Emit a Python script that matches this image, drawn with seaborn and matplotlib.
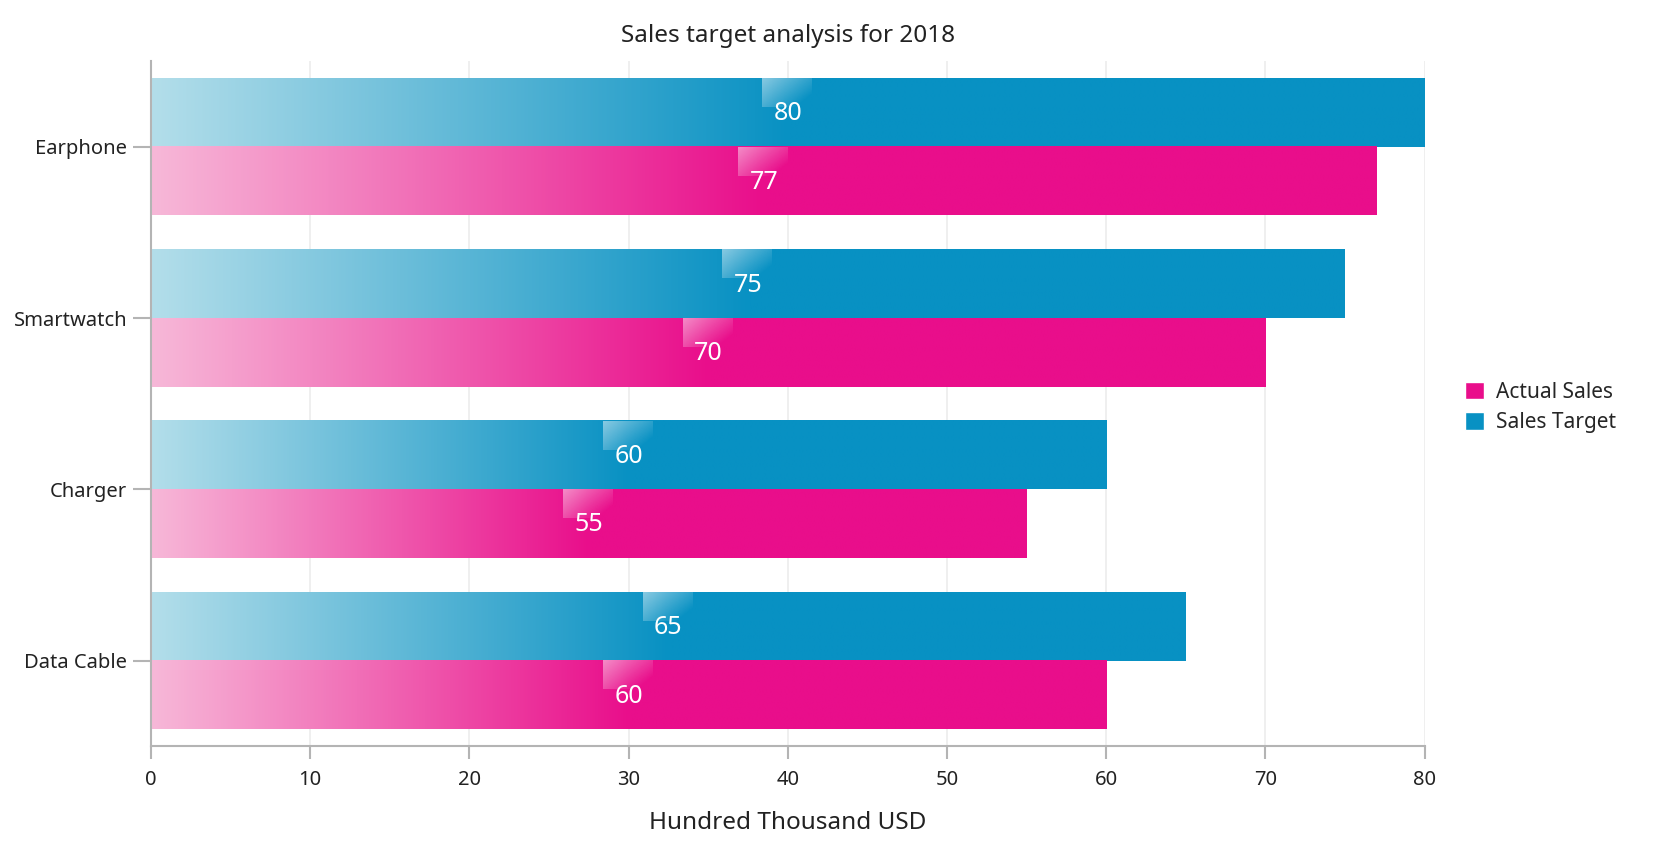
import numpy as np
import pandas as pd
import seaborn as sns
import matplotlib.pyplot as plt
from matplotlib.patches import Patch
from matplotlib.colors import to_rgb

products = ["Earphone", "Smartwatch", "Charger", "Data Cable"]
sales_target = [80, 75, 60, 65]
actual_sales = [77, 70, 55, 60]

colors = {"Sales Target": "#0891C3", "Actual Sales": "#E90E8B"}
light = {"Sales Target": "#B3DEEA", "Actual Sales": "#F7B8D8"}

df = pd.DataFrame({
    "product": products * 2,
    "value": sales_target + actual_sales,
    "series": ["Sales Target"] * 4 + ["Actual Sales"] * 4,
})

sns.set_style("white")
plt.rcParams["font.family"] = ["Noto Sans", "DejaVu Sans"]

fig = plt.figure(figsize=(16.7, 8.49), dpi=100)
ax = fig.add_axes([0.0904, 0.121, 0.7626, 0.807])

sns.barplot(df, y="product", x="value", hue="series", orient="h",
            hue_order=["Sales Target", "Actual Sales"], palette=colors,
            width=0.8, dodge=True, legend=False, ax=ax, zorder=2)

# gradient fill: light at 0, full colour from half the bar on
order = ["Sales Target", "Actual Sales"]
for i, bar in enumerate(ax.patches):
    name = order[i // len(products)]
    x0, y0 = bar.get_x(), bar.get_y()
    w, h = bar.get_width(), bar.get_height()
    c0 = np.array(to_rgb(light[name]))
    c1 = np.array(to_rgb(colors[name]))
    t = np.clip(np.linspace(0, 1, 256) / 0.5, 0, 1)[:, None]
    grad = (c0 * (1 - t) + c1 * t)[None, :, :]
    bar.set_facecolor("none")
    bar.set_edgecolor("none")
    ax.imshow(grad, extent=[x0, x0 + w, y0 + h, y0], aspect="auto",
              interpolation="bilinear", zorder=2)

    # value label with small glossy box
    cx = w / 2
    bw, bh = 3.1, h * 0.42
    gx, gy = np.meshgrid(np.linspace(0, 1, 40), np.linspace(0, 1, 20))
    alpha = np.clip(0.5 * (1 - 0.7 * gx - 0.5 * gy), 0, 1)
    box = np.ones((20, 40, 4))
    box[..., 3] = alpha
    ax.imshow(box, extent=[cx - 1.6, cx - 1.6 + bw, y0 + bh, y0],
              aspect="auto", interpolation="bilinear", zorder=3)
    ax.text(cx, y0 + h * 0.52, f"{w:g}", color="white", fontsize=18,
            ha="center", va="center", zorder=4)

ax.set_xlim(0, 80)
ax.set_ylim(3.5, -0.5)
ax.set_xticks(range(0, 81, 10))
ax.grid(axis="x", color="#ECECEC", linewidth=1.2, zorder=0)
ax.set_axisbelow(True)

for side in ["top", "right"]:
    ax.spines[side].set_visible(False)
for side in ["left", "bottom"]:
    ax.spines[side].set_color("#B4B4B4")
    ax.spines[side].set_linewidth(1.5)

ax.tick_params(axis="y", length=13, width=1.5, color="#B4B4B4",
               labelsize=14.5, pad=4, left=True, labelcolor="#222222")
ax.tick_params(axis="x", length=9, width=1.5, color="#B4B4B4",
               labelsize=14.5, pad=8, bottom=True, labelcolor="#222222")
ax.set_ylabel("")
ax.set_xlabel("Hundred Thousand USD", fontsize=17.5, labelpad=15,
              color="#222222")
ax.set_title("Sales target analysis for 2018", fontsize=17.5, pad=14,
             color="#222222")

handles = [Patch(facecolor=colors["Actual Sales"], label="Actual Sales"),
           Patch(facecolor=colors["Sales Target"], label="Sales Target")]
fig.legend(handles=handles, loc="center left", bbox_to_anchor=(0.866, 0.52),
           frameon=False, fontsize=15, handlelength=0.9, handleheight=0.9,
           handletextpad=0.6, labelspacing=0.45)

plt.savefig("out.png", dpi=100)
